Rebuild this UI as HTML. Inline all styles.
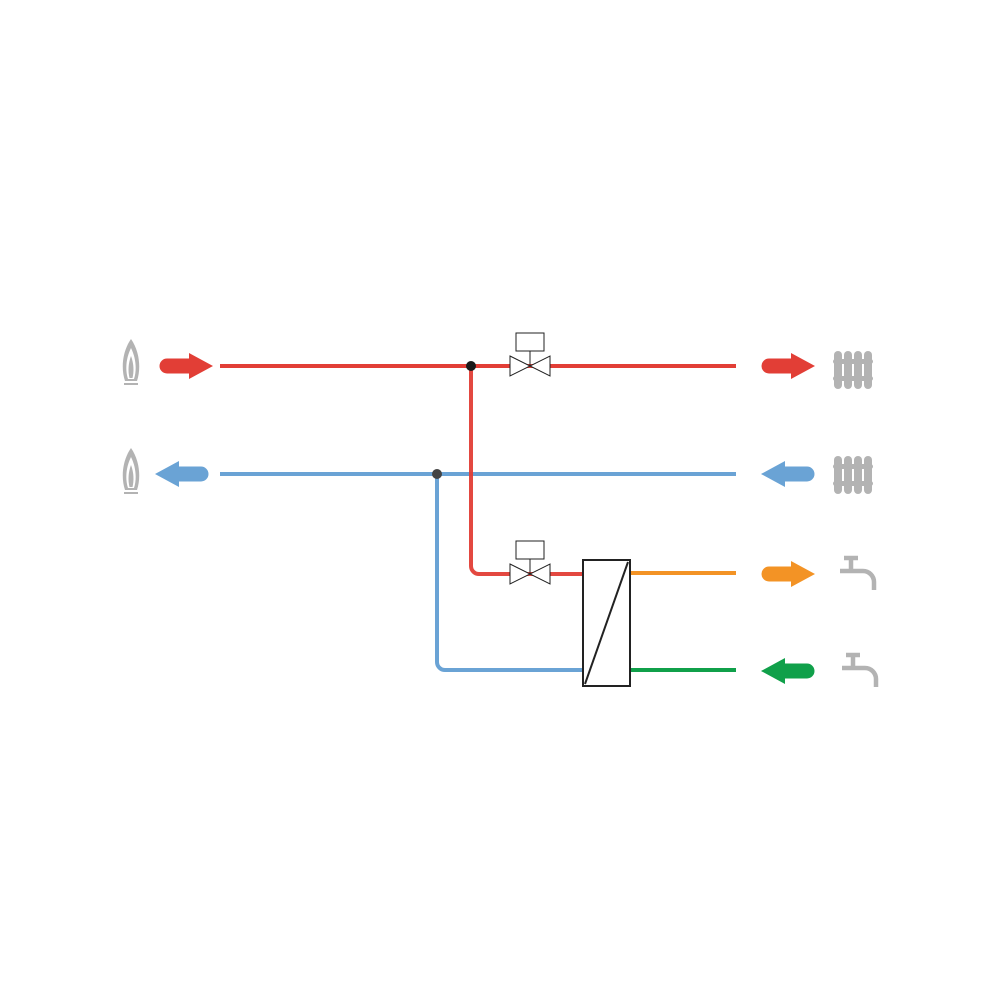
<!DOCTYPE html>
<html><head><style>body{margin:0;background:#fff}</style></head><body>
<svg width="1000" height="1000" viewBox="0 0 1000 1000" xmlns="http://www.w3.org/2000/svg">
<defs>
<g id="arR"><path d="M0,-7.5 H22 V-13 L46,0 L22,13 V7.5 H0 A7.5,7.5 0 0 1 0,-7.5 Z"/></g>
<g id="burner" fill="#b3b3b3"><path d="M0,-25 C-9,-12 -10,5 -6,17 H6 C10,5 9,-12 0,-25 Z M0,-16 C-5,-6 -6,6 -3,15 H3 C6,6 5,-6 0,-16 Z" fill-rule="evenodd"/><path d="M0,-8 C-3,0 -3,8 -1.5,14 H1.5 C3,8 3,0 0,-8 Z"/><rect x="-7" y="19" width="14" height="2"/></g>
<g id="rad" fill="#b3b3b3"><rect x="0" y="0" width="8" height="38" rx="4"/><rect x="10" y="0" width="8" height="38" rx="4"/><rect x="20" y="0" width="8" height="38" rx="4"/><rect x="30" y="0" width="8" height="38" rx="4"/><rect x="-1" y="8" width="40" height="5" rx="2.5"/><rect x="-1" y="25" width="40" height="5" rx="2.5"/></g>
<g id="tap" fill="none" stroke="#b3b3b3" stroke-width="4.5"><path d="M4,0 H18 M11,0 V13 M0,13 H23 A11,11 0 0 1 34,24 V32"/></g>
<g id="valve" fill="#fff" stroke="#222" stroke-width="1"><path d="M-20,-10 L20,10 L20,-10 L-20,10 Z"/><line x1="0" y1="0" x2="0" y2="-15"/><rect x="-14" y="-33" width="28" height="18"/></g>
</defs>
<g fill="none" stroke-width="4">
<path d="M220,366 H736" stroke="#e23e36"/>
<path d="M220,474 H736" stroke="#6aa3d5"/>
<path d="M437,474 V662 A8,8 0 0 0 445,670 H583" stroke="#6aa3d5"/>
<path d="M471,366 V566 A8,8 0 0 0 479,574 H583" stroke="#e23e36" stroke-opacity="0.95"/>
<path d="M630,573 H736" stroke="#f39325"/>
<path d="M630,670 H736" stroke="#10a04a"/>
</g>
<circle cx="471" cy="366" r="5" fill="#1a1a1a"/>
<circle cx="437" cy="474" r="5" fill="#444"/>
<use href="#valve" x="530" y="366"/>
<use href="#valve" x="530" y="574"/>
<rect x="583" y="560" width="47" height="126" fill="#fff" stroke="#222" stroke-width="2"/>
<line x1="585" y1="684" x2="628" y2="562" stroke="#222" stroke-width="2"/>
<use href="#arR" x="167" y="366" fill="#e23e36"/>
<use href="#arR" transform="translate(201,474) scale(-1,1)" fill="#6aa3d5"/>
<use href="#arR" x="769" y="366" fill="#e23e36"/>
<use href="#arR" transform="translate(807,474) scale(-1,1)" fill="#6aa3d5"/>
<use href="#arR" x="769" y="574" fill="#f39325"/>
<use href="#arR" transform="translate(807,671) scale(-1,1)" fill="#10a04a"/>
<use href="#burner" x="131" y="364"/>
<use href="#burner" x="131" y="473"/>
<use href="#rad" x="834" y="351"/>
<use href="#rad" x="834" y="456"/>
<use href="#tap" x="840" y="558"/>
<use href="#tap" x="842" y="655"/>
</svg>
</body></html>
